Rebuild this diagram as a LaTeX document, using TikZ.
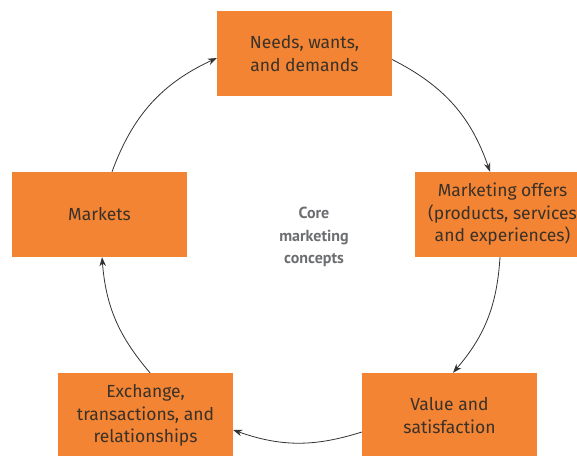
\documentclass[tikz,border=0pt]{standalone}
\usepackage{fontspec}
\setmainfont{Fira Sans}
\newfontfamily\corefont{PT Sans}
\usetikzlibrary{arrows.meta}
\definecolor{boxorange}{HTML}{F28434}
\definecolor{boxtext}{HTML}{3A3128}
\definecolor{coregray}{HTML}{6D6E71}
\definecolor{arrowgray}{HTML}{333333}
\begin{document}
\begin{tikzpicture}[x=1pt,y=-1pt,
  conceptbox/.style={fill=boxorange,draw=none,minimum width=175pt,minimum height=85pt,
    inner sep=0pt,align=center,text=boxtext,font=\fontsize{17.5}{22.5}\selectfont},
  cyclearrow/.style={draw=arrowgray,line width=0.8pt,-{Stealth[length=9pt,width=6.5pt]}}]
\useasboundingbox (0,0) rectangle (577,455);
\begin{scope}
\clip (0,0) rectangle (577,455);
\node[conceptbox] (needs) at (304.5,53.5) {Needs, wants,\\and demands};
\node[conceptbox] (offers) at (502.5,214.5) {Marketing offers\\(products, services\\and experiences)};
\node[conceptbox] (value) at (449.5,415.5) {Value and\\satisfaction};
\node[conceptbox] (exch) at (145.5,415.5) {Exchange,\\transactions, and\\relationships};
\node[conceptbox] (markets) at (99.5,214.5) {Markets};
\end{scope}
\node[text=coregray,align=center,font=\corefont\bfseries\fontsize{16}{22.5}\selectfont] (core) at (314,237) {Core\\marketing\\concepts};
\draw[cyclearrow] ([yshift=-6pt]needs.east) to[bend left=22] ([xshift=-12.5pt]offers.north);
\draw[cyclearrow] ([xshift=-2.5pt]offers.south) to[bend left=18.5] ([xshift=3.5pt]value.north);
\draw[cyclearrow] ([yshift=-16.5pt]value.west) to[bend left=18.5] ([yshift=-14.5pt]exch.east);
\draw[cyclearrow] ([xshift=4.5pt]exch.north) to[bend left=18] ([xshift=2.5pt]markets.south);
\draw[cyclearrow] ([xshift=12.5pt]markets.north) to[bend left=22.5] ([yshift=-4.5pt]needs.west);
\end{tikzpicture}
\end{document}
